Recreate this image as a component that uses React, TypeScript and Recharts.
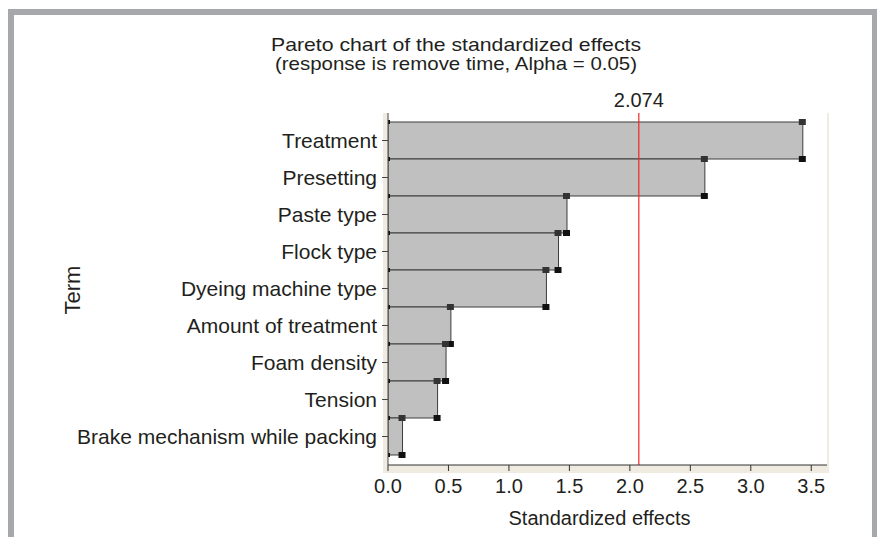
import { BarChart, Bar, XAxis, YAxis, ReferenceLine, Label } from 'recharts'

const terms = [
  'Treatment',
  'Presetting',
  'Paste type',
  'Flock type',
  'Dyeing machine type',
  'Amount of treatment',
  'Foam density',
  'Tension',
  'Brake mechanism while packing',
]
const effects = [3.43, 2.62, 1.48, 1.41, 1.31, 0.52, 0.48, 0.41, 0.12]
const xTicks = [0, 0.5, 1, 1.5, 2, 2.5, 3, 3.5]
const critical = 2.074

const data = terms.map((term, i) => ({ term, effect: effects[i] }))

const FONT = '"Liberation Sans", Arial, Helvetica, sans-serif'
const TEXT = '#231f20'

const BarShape = (props: any) => {
  const { x, y, width, height } = props
  if (width == null || height == null) return null
  const r = x + width
  const b = y + height
  return (
    <g>
      <rect x={x} y={y} width={width} height={height} fill="#c0c0c0" stroke="#3c3c3c" strokeWidth={1} />
      <rect x={r - 4} y={y - 3} width={7} height={6} fill="#333" />
      <rect x={r - 4} y={b - 3} width={7} height={6} fill="#111" />
      <rect x={x - 1} y={y - 2} width={3} height={4} fill="#111" />
      <rect x={x - 1} y={b - 2} width={3} height={4} fill="#111" />
    </g>
  )
}

export default function App() {
  return (
    <div style={{ position: 'relative', width: 877, height: 537, overflow: 'hidden', background: '#fff', fontFamily: FONT }}>
      <style>{`body{margin:0}`}</style>
      {/* outer grey frame */}
      <div
        style={{
          position: 'absolute', left: 8, top: 9, width: 869, height: 560, boxSizing: 'border-box',
          borderLeft: '6px solid #a6a8ab', borderTop: '6px solid #a6a8ab', borderRight: '5px solid #a6a8ab',
        }}
      />
      {/* beige plot frame and white plot area */}
      <div style={{ position: 'absolute', left: 383, top: 113, width: 446, height: 360, background: '#efebe1' }} />
      <div style={{ position: 'absolute', left: 388, top: 113, width: 439, height: 352, background: '#fff' }} />
      <div style={{ position: 'absolute', left: 0, top: 0 }}>
        <BarChart
          width={877}
          height={537}
          data={data}
          layout="vertical"
          barCategoryGap={0}
          margin={{ top: 113, right: 50, bottom: 0, left: 0 }}
        >
          <XAxis
            type="number"
            domain={[0, 3.63]}
            ticks={xTicks}
            allowDataOverflow
            tickFormatter={(v: number) => v.toFixed(1)}
            height={72}
            tickSize={6}
            tickMargin={8}
            stroke="#333"
            tick={{ fill: TEXT, fontSize: 20, fontFamily: FONT }}
          >
            <Label
              content={({ viewBox }: any) => (
                <text x={viewBox.x + viewBox.width / 2 - 8} y={525} textAnchor="middle" fill={TEXT} fontSize={20} fontFamily={FONT}>
                  Standardized effects
                </text>
              )}
            />
          </XAxis>
          <XAxis xAxisId="top" orientation="top" type="number" domain={[0, 3.63]} height={0} tick={false} tickLine={false} stroke="#222" />
          <YAxis
            type="category"
            dataKey="term"
            width={388}
            tickSize={6}
            tickMargin={5}
            interval={0}
            padding={{ top: 9, bottom: 10 }}
            stroke="#444"
            tick={{ fill: TEXT, fontSize: 21, fontFamily: FONT }}
          >
            <Label
              content={() => (
                <text x={80} y={290} transform="rotate(-90, 80, 290)" textAnchor="middle" fill={TEXT} fontSize={22} fontFamily={FONT}>
                  Term
                </text>
              )}
            />
          </YAxis>
          <YAxis yAxisId="right" orientation="right" type="category" dataKey="term" width={0} tick={false} tickLine={false} stroke="#222" />
          <Bar dataKey="effect" shape={BarShape} isAnimationActive={false} />
          <ReferenceLine x={critical} stroke="#ee2a24" strokeWidth={1.2} ifOverflow="extendDomain">
            <Label value="2.074" position="top" offset={6} fill={TEXT} fontSize={20} fontFamily={FONT} />
          </ReferenceLine>
        </BarChart>
      </div>
      <svg width={877} height={100} style={{ position: 'absolute', left: 0, top: 0 }}>
        <text x={456} y={51} textAnchor="middle" fill={TEXT} fontSize={18.5} fontFamily={FONT} textLength={370} lengthAdjust="spacingAndGlyphs">
          Pareto chart of the standardized effects
        </text>
        <text x={456} y={70} textAnchor="middle" fill={TEXT} fontSize={18.5} fontFamily={FONT} textLength={362} lengthAdjust="spacingAndGlyphs">
          (response is remove time, Alpha = 0.05)
        </text>
      </svg>
    </div>
  )
}
